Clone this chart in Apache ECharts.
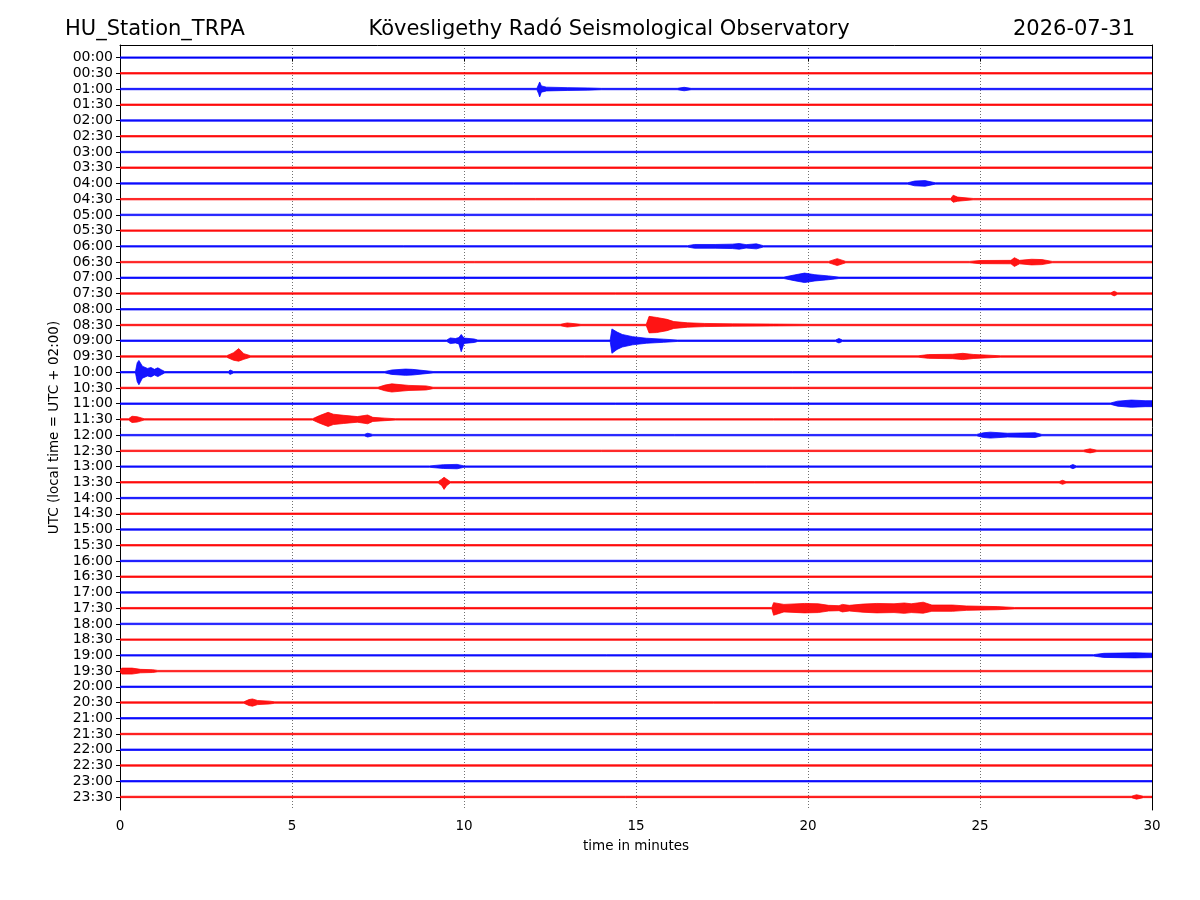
<!DOCTYPE html>
<html lang="en">
<head>
<meta charset="utf-8" />
<title>HU_Station_TRPA helicorder</title>
<script src="https://cdn.jsdelivr.net/npm/echarts@6/dist/echarts.min.js"></script>
<style>
  * { margin: 0; padding: 0; }
  #chart-container { width: 1200px; height: 900px; background: #fff; }
</style>
</head>
<body>
<div id="chart-container"></div>
<script>
  // row labels (UTC start of each 30 minute line)
  var timeLabels = [
    "00:00", "00:30", "01:00", "01:30", "02:00", "02:30", "03:00", "03:30",
    "04:00", "04:30", "05:00", "05:30", "06:00", "06:30", "07:00", "07:30",
    "08:00", "08:30", "09:00", "09:30", "10:00", "10:30", "11:00", "11:30",
    "12:00", "12:30", "13:00", "13:30", "14:00", "14:30", "15:00", "15:30",
    "16:00", "16:30", "17:00", "17:30", "18:00", "18:30", "19:00", "19:30",
    "20:00", "20:30", "21:00", "21:30", "22:00", "22:30", "23:00", "23:30"
  ];
  var minuteTicks = [0, 5, 10, 15, 20, 25, 30];
  var traceColors = ["#0000ff", "#ff0000"];

  // background noise half-width, in row units
  var noiseLevel = 0.045;
  var b = noiseLevel;

  // envelope of the visible events: [row, [[minute, up, down?], ...]]
  var traceEvents = [
    [2, [[12.12, b], [12.17, 0.3], [12.2, 0.45, 0.5], [12.25, 0.2], [12.4, 0.12], [13.0, 0.09], [13.6, 0.07], [14.0, b],
         [16.2, b], [16.4, 0.11], [16.6, b]]],
    [8, [[22.9, b], [23.1, 0.15], [23.4, 0.18], [23.7, b]]],
    [9, [[24.15, b], [24.22, 0.25, 0.2], [24.35, 0.13], [24.8, b]]],
    [12, [[16.5, b], [16.7, 0.12], [17.3, 0.12], [17.8, 0.14], [18.0, 0.18], [18.2, 0.11], [18.5, 0.16], [18.7, b]]],
    [13, [[20.6, b], [20.85, 0.22], [21.1, b], [24.7, b], [25.0, 0.1], [25.9, 0.11], [26.0, 0.28], [26.15, 0.11],
          [26.5, 0.18], [26.8, 0.16], [27.1, b]]],
    [14, [[19.3, b], [19.6, 0.18], [19.9, 0.3], [20.2, 0.2], [20.6, 0.12], [20.9, b]]],
    [15, [[28.8, b], [28.9, 0.15], [29.0, b]]],
    [17, [[12.8, b], [13.0, 0.13], [13.4, b], [15.3, b], [15.38, 0.55, 0.5], [15.6, 0.48], [15.9, 0.36], [16.1, 0.22],
          [16.5, 0.14], [17.0, 0.1], [17.8, 0.075], [19.0, 0.06], [20.0, b]]],
    [18, [[9.5, b], [9.6, 0.18], [9.75, 0.14], [9.85, 0.2], [9.92, 0.4, 0.7], [10.0, 0.17], [10.3, 0.11], [10.4, b],
          [14.25, b], [14.3, 0.75, 0.8], [14.45, 0.55], [14.6, 0.4], [14.9, 0.26], [15.3, 0.16], [15.8, 0.1], [16.2, b],
          [20.8, b], [20.9, 0.14], [21.0, b]]],
    [19, [[3.1, b], [3.3, 0.24], [3.45, 0.5, 0.3], [3.6, 0.18], [3.8, b], [23.2, b], [23.5, 0.12], [24.2, 0.14],
          [24.5, 0.2], [24.8, 0.13], [25.6, b]]],
    [20, [[0.45, b], [0.5, 0.6], [0.55, 0.75, 0.8], [0.65, 0.38], [0.8, 0.24], [0.9, 0.3], [1.0, 0.18], [1.1, 0.28],
          [1.2, 0.16], [1.3, b], [3.15, b], [3.2, 0.14], [3.3, b], [7.7, b], [7.9, 0.14], [8.3, 0.2], [8.5, 0.18], [9.1, b]]],
    [21, [[7.5, b], [7.7, 0.18], [7.9, 0.26], [8.2, 0.2], [8.4, 0.16], [8.9, 0.13], [9.1, b]]],
    [22, [[28.8, b], [29.0, 0.16], [29.4, 0.23], [29.8, 0.19], [30, 0.19]]],
    [23, [[0.25, b], [0.35, 0.2], [0.5, 0.17], [0.7, b], [5.6, b], [5.8, 0.24], [6.05, 0.45], [6.2, 0.33], [6.5, 0.26],
          [6.9, 0.18], [7.2, 0.28], [7.35, 0.13], [7.7, 0.08], [8.0, b]]],
    [24, [[7.1, b], [7.2, 0.12], [7.35, b], [24.9, b], [25.1, 0.15], [25.3, 0.19], [25.8, 0.12], [26.6, 0.15], [26.8, b]]],
    [25, [[28.0, b], [28.2, 0.13], [28.4, b]]],
    [26, [[9.0, b], [9.4, 0.12], [9.8, 0.14], [10.0, b], [27.6, b], [27.7, 0.13], [27.8, b]]],
    [27, [[9.25, b], [9.35, 0.2], [9.42, 0.32, 0.45], [9.5, 0.2], [9.6, b], [27.3, b], [27.4, 0.13], [27.5, b]]],
    [35, [[18.95, b], [19.0, 0.35, 0.45], [19.3, 0.24], [19.9, 0.3], [20.3, 0.28], [20.6, 0.18], [20.9, 0.16], [21.0, 0.24],
          [21.2, 0.18], [21.6, 0.26], [22.0, 0.3], [22.5, 0.28], [22.8, 0.33], [23.0, 0.28], [23.35, 0.38, 0.32], [23.6, 0.2],
          [24.2, 0.2], [24.6, 0.14], [25.5, 0.1], [26.0, b]]],
    [38, [[28.3, b], [28.6, 0.13], [29.5, 0.16], [30, 0.14]]],
    [39, [[0, b], [0.05, 0.19], [0.35, 0.19], [0.6, 0.11], [0.95, 0.09], [1.1, b]]],
    [41, [[3.6, b], [3.75, 0.19], [3.85, 0.23], [4.0, 0.13], [4.35, 0.09], [4.5, b]]],
    [47, [[29.4, b], [29.55, 0.14], [29.75, b]]]
  ];

  var envelopeByRow = {};
  traceEvents.forEach(function (e) { envelopeByRow[e[0]] = e[1]; });

  function rowEnvelope(row) {
    var pts = (envelopeByRow[row] || []).slice();
    if (!pts.length || pts[0][0] > 0) pts.unshift([0, noiseLevel]);
    if (pts[pts.length - 1][0] < 30) pts.push([30, noiseLevel]);
    return pts;
  }

  var font = "DejaVu Sans";
  var rowTicks = timeLabels.map(function (_, i) { return i; });
  var dom = document.getElementById("chart-container");
  var myChart = echarts.init(dom, null, { renderer: "canvas" });

  var titleStyle = { fontFamily: font, fontSize: 21, fontWeight: "normal", color: "#000" };

  var option = {
    animation: false,
    backgroundColor: "#ffffff",
    title: [
      { text: "HU_Station_TRPA", left: 65, top: 19, padding: 0, textStyle: titleStyle },
      { text: "Kövesligethy Radó Seismological Observatory", left: 609, top: 19, padding: 0, textAlign: "center", textStyle: titleStyle },
      { text: "2026-07-31", right: 65, top: 19, padding: 0, textStyle: titleStyle }
    ],
    grid: { left: 120, right: 48, top: 45, bottom: 90, containLabel: false },
    xAxis: [
      {
        type: "value", min: 0, max: 30, interval: 5,
        name: "time in minutes", nameLocation: "middle", nameGap: 29,
        nameTextStyle: { fontFamily: font, fontSize: 13.5, color: "#000" },
        axisLine: { show: true, lineStyle: { color: "#000", width: 1 } },
        axisTick: { show: true, length: 4, lineStyle: { color: "#000" } },
        axisLabel: { fontFamily: font, fontSize: 13.5, color: "#000", margin: 9,
          formatter: function (v) { return minuteTicks.indexOf(v) >= 0 ? String(v) : ""; } },
        splitLine: { show: true, lineStyle: { color: "#333", width: 0.7, type: [1, 2] } }
      },
      {
        type: "value", min: 0, max: 30, position: "top",
        axisLine: { show: true, onZero: false, lineStyle: { color: "#000", width: 1 } },
        axisTick: { show: false }, axisLabel: { show: false }, splitLine: { show: false }
      }
    ],
    yAxis: [
      {
        type: "value", inverse: true, min: -0.8, max: 47.83,
        name: "UTC (local time = UTC + 02:00)", nameLocation: "middle", nameRotate: 90, nameGap: 56,
        nameTextStyle: { fontFamily: font, fontSize: 13.5, color: "#000" },
        axisLine: { show: true, onZero: false, lineStyle: { color: "#000", width: 1 } },
        axisTick: { show: true, length: 4, customValues: rowTicks, lineStyle: { color: "#000" } },
        axisLabel: { fontFamily: font, fontSize: 14, color: "#000", margin: 7,
          customValues: rowTicks,
          formatter: function (v) { return timeLabels[Math.round(v)]; } },
        splitLine: { show: false }
      },
      {
        type: "value", inverse: true, min: -0.8, max: 47.83, position: "right",
        axisLine: { show: true, onZero: false, lineStyle: { color: "#000", width: 1 } },
        axisTick: { show: false }, axisLabel: { show: false }, splitLine: { show: false }
      }
    ],
    series: [{
      type: "custom",
      xAxisIndex: 0,
      yAxisIndex: 0,
      clip: true,
      data: rowTicks.map(function (i) { return [0, i]; }),
      encode: { x: 0, y: 1 },
      renderItem: function (params, api) {
        var row = api.value(1);
        var pts = rowEnvelope(row);
        var upper = pts.map(function (p) { return api.coord([p[0], row - p[1]]); });
        var lower = pts.slice().reverse().map(function (p) {
          return api.coord([p[0], row + (p.length > 2 ? p[2] : p[1])]);
        });
        var color = traceColors[row % 2];
        return {
          type: "polygon",
          shape: { points: upper.concat(lower) },
          style: { fill: color, stroke: color, lineWidth: 0.8, opacity: 0.92 }
        };
      }
    }]
  };

  myChart.setOption(option);
  window.addEventListener("resize", myChart.resize);
</script>
</body>
</html>
